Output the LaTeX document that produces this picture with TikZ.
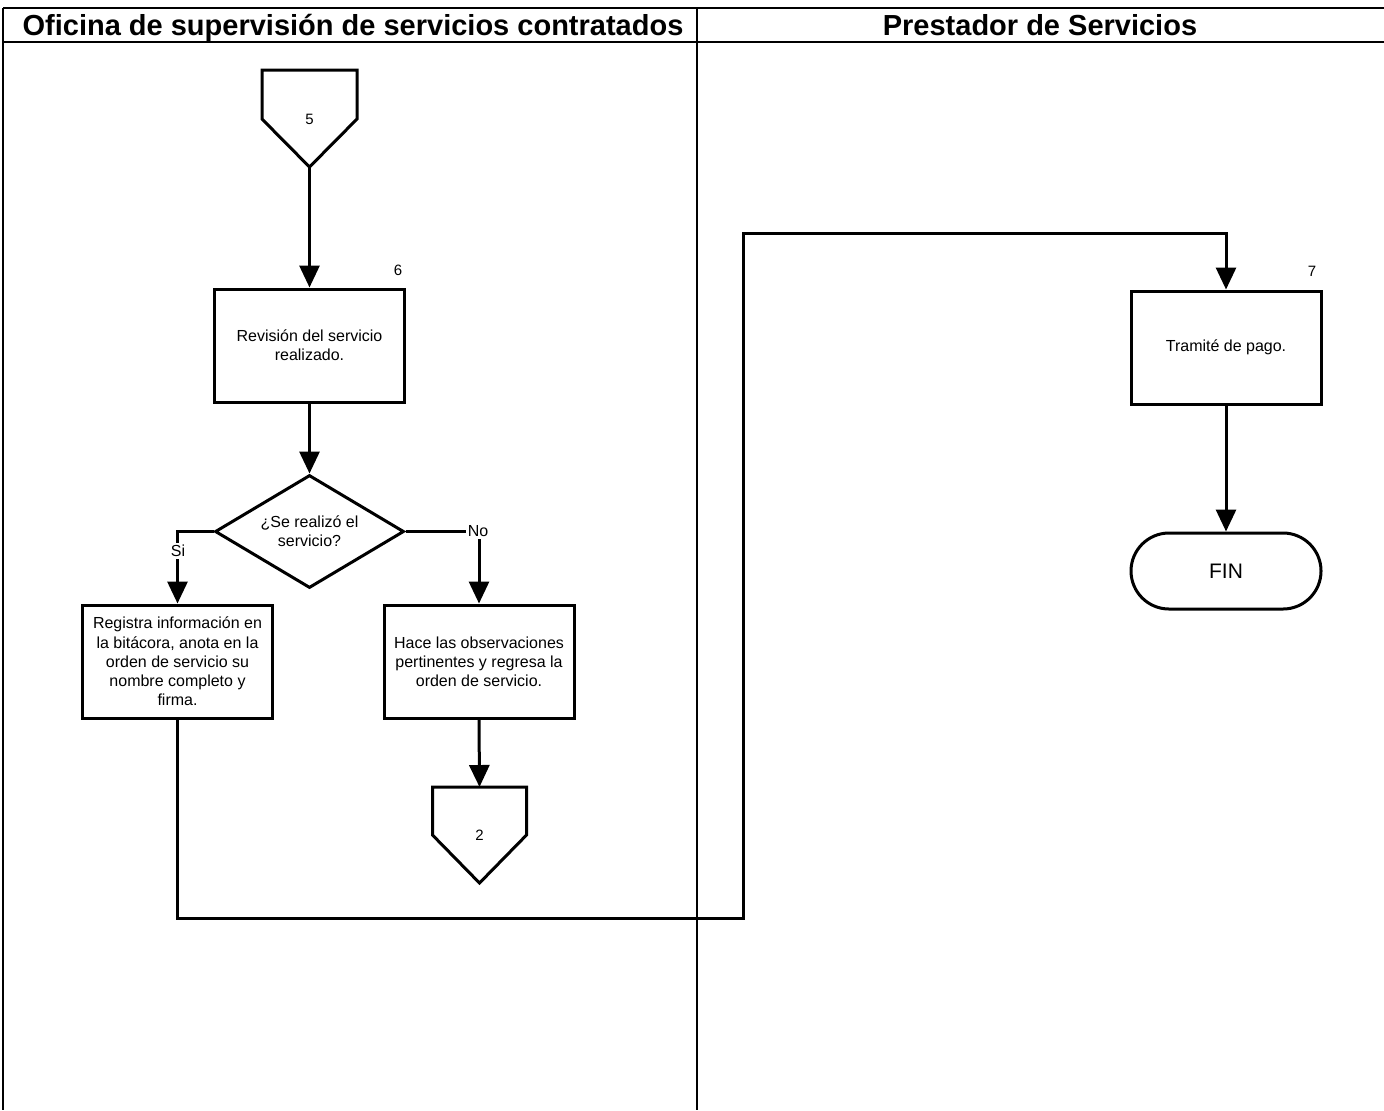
\documentclass[tikz,border=0pt]{standalone}
\usepackage{fontspec}
\setmainfont{Liberation Sans}
\usetikzlibrary{arrows.meta,shapes.geometric}
\begin{document}
\begin{tikzpicture}[x=0.5pt,y=-0.5pt,
  lane/.style={line width=0.6pt},
  lanehead/.style={line width=1.2pt},
  flow/.style={line width=1.5pt,-{Triangle[width=10pt,length=11pt]}},
  plain/.style={line width=1.5pt},
  procbox/.style={draw,line width=1.5pt,minimum width=95pt,minimum height=56.5pt,
    inner sep=0pt,align=center,font=\fontsize{8}{9.6}\selectfont},
  decision/.style={draw,diamond,line width=1.5pt,minimum width=94.5pt,minimum height=56.5pt,
    inner sep=0pt,aspect=1.67,align=center,font=\fontsize{8}{9.6}\selectfont},
  term/.style={draw,line width=1.5pt,rounded corners=19pt,minimum width=95pt,minimum height=38pt,
    inner sep=0pt,font=\fontsize{10.5}{12}\selectfont},
  numtxt/.style={inner sep=0pt,font=\fontsize{7.5}{9}\selectfont},
  branchtxt/.style={fill=white,inner sep=1pt,font=\fontsize{8}{9.6}\selectfont},
  headtxt/.style={inner sep=0pt,anchor=base,font=\fontsize{14.5}{17}\selectfont\bfseries}
]
\useasboundingbox (0,0) rectangle (1384,1110);
\fill[white] (0,0) rectangle (1384,1110);

% swimlanes
\draw[lanehead] (3,8) -- (1384,8);
\draw[lanehead] (3,42) -- (1384,42);
\draw[lane] (3,8) -- (3,1110);
\draw[lane] (697,8) -- (697,1110);
\node[headtxt] (h1) at (353,35) {Oficina de supervisión de servicios contratados};
\node[headtxt] (h2) at (1040,35) {Prestador de Servicios};

% off-page connector 5
\draw[plain] (262,70) -- (357,70) -- (357,119) -- (309.5,167) -- (262,119) -- cycle;
\node[numtxt] (c5) at (309.5,119) {5};
\coordinate (c5tip) at (309.5,167);

% step 6
\node[procbox] (b6) at (309.5,345.5) {Revisión del servicio\\realizado.};
\node[numtxt] (n6) at (398,270) {6};

% decision
\node[decision] (dec) at (309.5,531.5) {¿Se realizó el\\servicio?};

% branches
\node[procbox] (bsi) at (177.5,661.5) {Registra información en\\la bitácora, anota en la\\orden de servicio su\\nombre completo y\\firma.};
\node[procbox] (bno) at (479,661.5) {Hace las observaciones\\pertinentes y regresa la\\orden de servicio.};

% off-page connector 2
\draw[plain] (432.5,787) -- (526.5,787) -- (526.5,835) -- (479.5,883) -- (432.5,835) -- cycle;
\node[numtxt] (c2) at (479.5,835) {2};
\coordinate (c2top) at (479.5,787);

% step 7 and end
\node[procbox] (b7) at (1226,347.5) {Tramité de pago.};
\node[numtxt] (n7) at (1312,271) {7};
\node[term] (fin) at (1226,571) {FIN};

% connectors
\draw[flow] (c5tip) -- (b6.north);
\draw[flow] (b6.south) -- (dec.north);
\draw[flow] (dec.west) -| (bsi.north);
\draw[flow] (dec.east) -| (bno.north);
\node[branchtxt] (lsi) at (178,551) {Si};
\node[branchtxt] (lno) at (478,531.5) {No};
\draw[flow] (bno.south) -- (c2top);

\coordinate (j1) at (743,918);
\coordinate (j2) at (743,233);
\coordinate (j3) at (1226,233);
\draw[flow] (bsi.south) |- (j1) -- (j2) -- (j3) -- (b7.north);
\draw[flow] (b7.south) -- (fin.north);
\end{tikzpicture}
\end{document}
